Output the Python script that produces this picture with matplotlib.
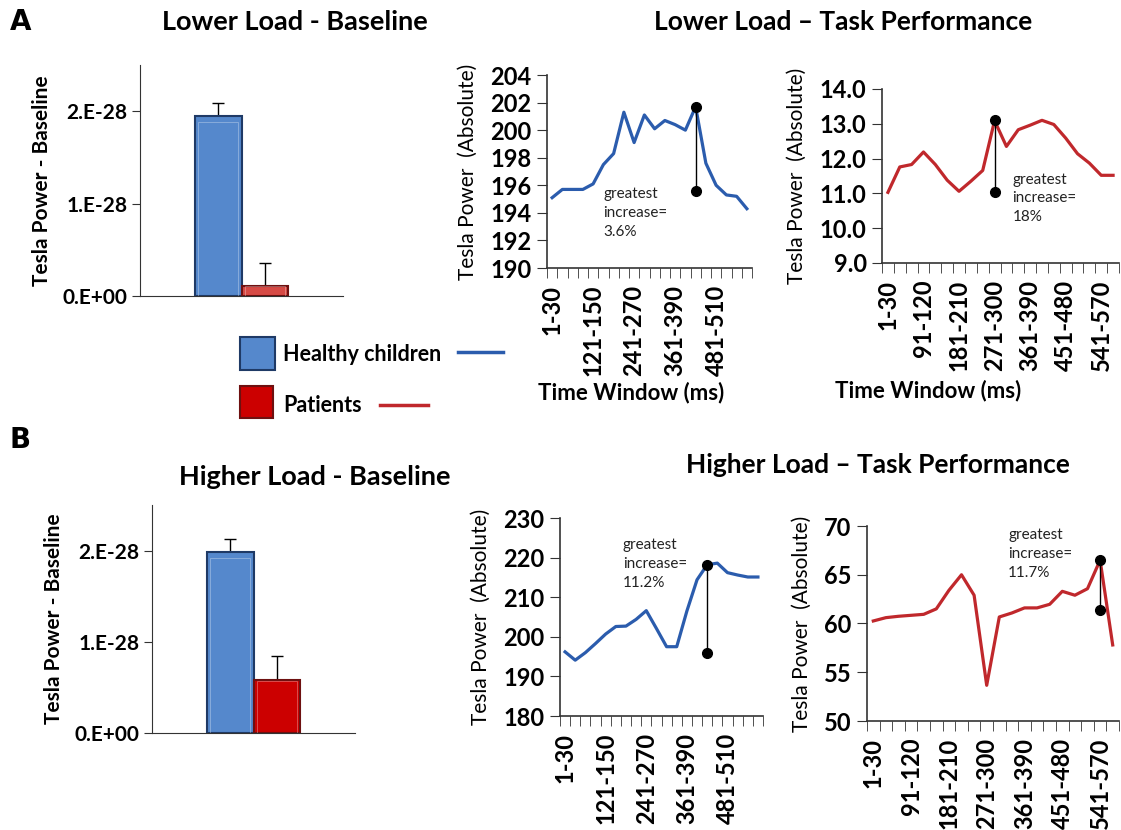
import numpy as np
import matplotlib
matplotlib.use("Agg")
from matplotlib import pyplot as plt
from matplotlib.patches import Rectangle
from matplotlib.lines import Line2D

plt.rcParams['font.family'] = ['Lato', 'DejaVu Sans']

W, H = 1121, 830

# time windows (ms)
windows = ["1-30", "31-60", "61-90", "91-120", "121-150", "151-180", "181-210",
           "211-240", "241-270", "271-300", "301-330", "331-360", "361-390",
           "391-420", "421-450", "451-480", "481-510", "511-540", "541-570",
           "571-600"]

groups = ["Healthy children", "Patients"]

# baseline bars (mean, upper error)
low_base = [1.946e-28, 0.112e-28]
low_base_err = [0.145e-28, 0.242e-28]
high_base = [1.98e-28, 0.585e-28]
high_base_err = [0.15e-28, 0.255e-28]

# task performance
low_healthy = [195.1, 195.7, 195.7, 195.7, 196.1, 197.5, 198.3, 201.3, 199.1, 201.1,
               200.1, 200.7, 200.4, 200.0, 201.7, 197.6, 196.0, 195.3, 195.2, 194.3]
low_patients = [11.03, 11.76, 11.83, 12.19, 11.83, 11.38, 11.06, 11.35, 11.66, 13.09,
                12.35, 12.83, 12.96, 13.1, 12.98, 12.59, 12.14, 11.87, 11.52, 11.52]
high_healthy = [196.2, 194.1, 196.0, 198.3, 200.7, 202.6, 202.7, 204.4, 206.6, 202.1,
                197.5, 197.5, 206.5, 214.4, 218.2, 218.6, 216.2, 215.6, 215.1, 215.1]
high_patients = [60.26, 60.6, 60.74, 60.84, 60.94, 61.5, 63.4, 65.0, 62.9, 53.66,
                 60.67, 61.08, 61.6, 61.6, 61.97, 63.3, 62.9, 63.57, 66.5, 57.8]

# greatest increase markers: (index, low, high, text)
low_healthy_inc = (14, 195.6, 201.7, "3.6%")
low_patients_inc = (9, 11.03, 13.1, "18%")
high_healthy_inc = (14, 196.0, 218.2, "11.2%")
high_patients_inc = (18, 61.35, 66.5, "11.7%")

BLUE = "#2b5cad"
RED = "#c0282c"
SPINE = "#333333"


def rect(x0, y0, x1, y1):
    return [x0 / W, 1 - y1 / H, (x1 - x0) / W, (y1 - y0) / H]


fig = plt.figure(figsize=(W / 100, H / 100), dpi=100)


def bar_panel(box, vals, errs, red_col):
    ax = fig.add_axes(rect(*box))
    cols = ["#5588cc", red_col]
    edges = ["#1f3a66", "#6e1010"]
    xs = np.arange(len(vals))
    for x, v, e, c, ec in zip(xs, vals, errs, cols, edges):
        ax.bar(x, v, width=1.0, color=c, edgecolor=ec, linewidth=1.5, zorder=2)
        ax.bar(x, v * 0.97, width=0.84, color="none",
               edgecolor="white", linewidth=0.6, alpha=0.35, zorder=3)
        ax.errorbar(x, v, yerr=[[0], [e]], fmt="none", ecolor="black",
                    elinewidth=1, capsize=4, capthick=1, zorder=1)
    ax.set_xlim(-1.67, 2.67)
    ax.set_ylim(0, 2.5e-28)
    ax.set_yticks([0, 1e-28, 2e-28])
    ax.set_yticklabels(["0.E+00", "1.E-28", "2.E-28"], fontsize=15, fontweight="bold")
    ax.set_xticks([])
    for s in ["top", "right"]:
        ax.spines[s].set_visible(False)
    for s in ["left", "bottom"]:
        ax.spines[s].set_color(SPINE)
    ax.tick_params(axis="y", length=6, direction="out", color=SPINE, pad=3)
    ax.set_ylabel("Tesla Power - Baseline", fontsize=15, fontweight="bold", labelpad=8)
    return ax


def line_panel(box, vals, color, ylim, yticks, fmt, step, inc, txt_xy, xlabel_xy):
    ax = fig.add_axes(rect(*box))
    xs = np.arange(len(vals))
    ax.plot(xs, vals, color=color, linewidth=2.3, zorder=2)
    i, lo, hi, pct = inc
    ax.plot([i, i], [lo, hi], color="black", linewidth=1, zorder=3)
    ax.plot([i, i], [lo, hi], "o", color="black", markersize=7, zorder=4)
    ax.text(txt_xy[0], txt_xy[1], "greatest\nincrease=\n" + pct, fontsize=11,
            va="top", ha="left", linespacing=1.45, color="#222222")
    ax.set_xlim(-0.5, len(vals) - 0.5)
    ax.set_ylim(*ylim)
    ax.set_yticks(yticks)
    ax.set_yticklabels([fmt.format(t) for t in yticks], fontsize=17, fontweight="bold")
    ax.set_xticks(xs[::step])
    ax.set_xticklabels(windows[::step], rotation=90, fontsize=17, fontweight="bold")
    ax.set_xticks(np.arange(-0.5, len(vals)), minor=True)
    ax.tick_params(axis="x", which="major", length=0, pad=12)
    ax.tick_params(axis="x", which="minor", length=7, direction="out", color=SPINE)
    ax.tick_params(axis="y", length=7, direction="out", color=SPINE, pad=4)
    for s in ["top", "right"]:
        ax.spines[s].set_visible(False)
    for s in ["left", "bottom"]:
        ax.spines[s].set_color(SPINE)
        ax.spines[s].set_linewidth(1.2)
    ax.set_ylabel("Tesla Power  (Absolute)", fontsize=15, labelpad=9)
    if xlabel_xy is not None:
        ax.set_xlabel("Time Window (ms)", fontsize=16, fontweight="bold")
        ax.xaxis.set_label_coords(*xlabel_xy)
    return ax


# panel A
fig.text(10 / W, 1 - 22 / H, "A", fontsize=20, fontweight="bold", va="center", family="DejaVu Sans")
fig.text(295 / W, 1 - 22 / H, "Lower Load - Baseline", fontsize=19.5, fontweight="bold", ha="center", va="center")
fig.text(843 / W, 1 - 22 / H, "Lower Load \u2013 Task Performance", fontsize=19, fontweight="bold", ha="center", va="center")
bar_panel((140, 65, 343, 296), low_base, low_base_err, "#d64a45")
line_panel((547, 75, 752, 268), low_healthy, BLUE, (190, 204), np.arange(190, 205, 2),
           "{:.0f}", 4, low_healthy_inc, (5.0, 195.9), (0.41, -0.59))
line_panel((882, 89, 1119, 263), low_patients, RED, (9, 14), np.arange(9, 14.5, 1.0),
           "{:.1f}", 3, low_patients_inc, (10.5, 11.6), (0.195, -0.67))

# legend
fig.add_artist(Rectangle((240 / W, 1 - 370 / H), 35 / W, 33 / H, transform=fig.transFigure,
                         facecolor="#5588cc", edgecolor="#1f3a66", linewidth=1.5))
fig.add_artist(Rectangle((240 / W, 1 - 418 / H), 33 / W, 32 / H, transform=fig.transFigure,
                         facecolor="#cc0000", edgecolor="#6e1010", linewidth=1.5))
fig.text(283 / W, 1 - 354 / H, groups[0], fontsize=15.5, fontweight="bold", va="center")
fig.text(283 / W, 1 - 405 / H, groups[1], fontsize=15.5, fontweight="bold", va="center")
fig.add_artist(Line2D([458 / W, 503 / W], [1 - 352 / H] * 2, color=BLUE, linewidth=2.5))
fig.add_artist(Line2D([380 / W, 428 / W], [1 - 405 / H] * 2, color=RED, linewidth=2.5))

# panel B
fig.text(10 / W, 1 - 440 / H, "B", fontsize=20, fontweight="bold", va="center", family="DejaVu Sans")
fig.text(315 / W, 1 - 477 / H, "Higher Load - Baseline", fontsize=19.5, fontweight="bold", ha="center", va="center")
fig.text(878 / W, 1 - 465 / H, "Higher Load \u2013 Task Performance", fontsize=19, fontweight="bold", ha="center", va="center")
bar_panel((152, 505, 355, 733), high_base, high_base_err, "#cc0000")
line_panel((560, 518, 763, 716), high_healthy, BLUE, (180, 230), np.arange(180, 231, 10),
           "{:.0f}", 4, high_healthy_inc, (5.7, 225.0), None)
line_panel((867, 526, 1119, 721), high_patients, RED, (50, 70), np.arange(50, 71, 5),
           "{:.0f}", 3, high_patients_inc, (10.7, 69.8), None)

fig.savefig("out.png", dpi=100)
